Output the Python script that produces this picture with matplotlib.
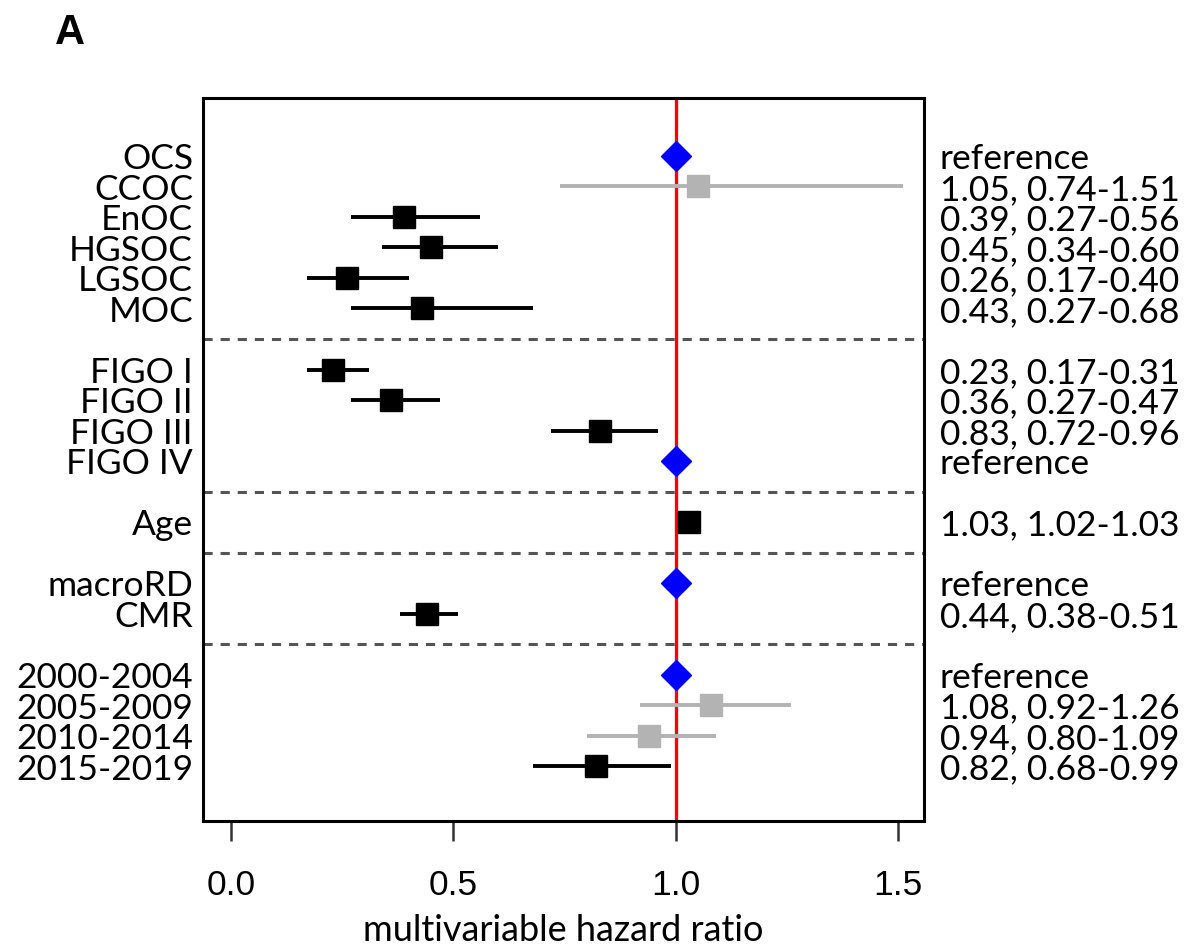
import matplotlib
matplotlib.use("Agg")
import matplotlib.pyplot as plt
import matplotlib.transforms as mtransforms
import numpy as np

# ---------------- data ----------------
labels = ["OCS", "CCOC", "EnOC", "HGSOC", "LGSOC", "MOC",
          "FIGO I", "FIGO II", "FIGO III", "FIGO IV",
          "Age",
          "macroRD", "CMR",
          "2000-2004", "2005-2009", "2010-2014", "2015-2019"]
hr    = [1.00, 1.05, 0.39, 0.45, 0.26, 0.43,
         0.23, 0.36, 0.83, 1.00,
         1.03,
         1.00, 0.44,
         1.00, 1.08, 0.94, 0.82]
lower = [np.nan, 0.74, 0.27, 0.34, 0.17, 0.27,
         0.17, 0.27, 0.72, np.nan,
         1.02,
         np.nan, 0.38,
         np.nan, 0.92, 0.80, 0.68]
upper = [np.nan, 1.51, 0.56, 0.60, 0.40, 0.68,
         0.31, 0.47, 0.96, np.nan,
         1.03,
         np.nan, 0.51,
         np.nan, 1.26, 1.09, 0.99]
is_reference = [True, False, False, False, False, False,
                False, False, False, True,
                False,
                True, False,
                True, False, False, False]
group_sizes = [6, 4, 1, 2, 4]
xticks = [0.0, 0.5, 1.0, 1.5]
xtick_labels = ["0.0", "0.5", "1.0", "1.5"]

# ---------------- layout ----------------
W, H = 1197, 953
fig = plt.figure(figsize=(W / 100, H / 100), dpi=100)
ax = fig.add_axes([203 / W, 1 - 822 / H, (924 - 203) / W, (822 - 99) / H])

# row positions (one blank row between groups)
rows = []
r = 0
seps = []
for gi, n in enumerate(group_sizes):
    for k in range(n):
        rows.append(r)
        r += 1
    if gi < len(group_sizes) - 1:
        seps.append(r)
        r += 1

TXT = ["Lato", "DejaVu Sans"]
fs = 25.5

ax.axvline(1.0, color="#ff0000", lw=2.4, zorder=1)

trans = mtransforms.blended_transform_factory(ax.transAxes, ax.transData)
for i, y in enumerate(rows):
    if is_reference[i]:
        ax.plot([hr[i]], [y], marker="D", ms=15.5, color="#0000ff",
                mec="#0000ff", zorder=4, ls="none")
        txt = "reference"
    else:
        sig = (upper[i] < 1.0) or (lower[i] > 1.0)
        col = "black" if sig else "#b3b3b3"
        ax.plot([lower[i], upper[i]], [y, y], color=col, lw=2.8,
                solid_capstyle="butt", zorder=2)
        ax.plot([hr[i]], [y], marker="s", ms=16.5, color=col, mec=col,
                zorder=3, ls="none")
        txt = f"{hr[i]:.2f}, {lower[i]:.2f}-{upper[i]:.2f}"
    ax.text(-10 / 721, y + 0.08, labels[i], transform=trans, ha="right",
            va="center", fontsize=fs, family=TXT, clip_on=False)
    ax.text((940 - 203) / 721, y + 0.08, txt, transform=trans, ha="left",
            va="center", fontsize=fs, family=TXT, clip_on=False)

for s in seps:
    ax.axhline(s, color="#555555", lw=2.2, dashes=(3.0, 2.6), zorder=1.5)

ax.set_xlim(-0.063, 1.558)
ax.set_ylim(21.8, -1.9)
ax.set_yticks([])
ax.set_xticks(xticks)
ax.set_xticklabels(xtick_labels)
ax.tick_params(axis="x", length=14.5, width=1.8, color="#333333", pad=19,
               labelsize=25.5, labelfontfamily="Liberation Sans")
for sp in ax.spines.values():
    sp.set_linewidth(2.2)
ax.set_xlabel("multivariable hazard ratio", fontsize=26, family=TXT,
              labelpad=9)

fig.text(55 / W, 1 - 33 / H, "A", fontsize=30, fontweight="bold",
         family=["Liberation Sans"], ha="left", va="center")

fig.savefig("out.png", dpi=100, facecolor="white")
